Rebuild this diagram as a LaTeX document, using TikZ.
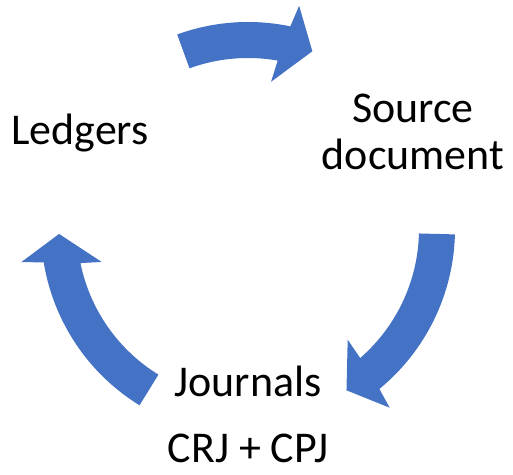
\documentclass[tikz,border=0pt]{standalone}
\usepackage{fontspec}
\setmainfont{Carlito}
\definecolor{cycleblue}{HTML}{4472C4}

\begin{document}
\begin{tikzpicture}[x=0.02cm,y=0.02cm]

      \useasboundingbox (0,0) rectangle (513,475);

      \begin{scope}[every node/.style={font=\fontsize{25}{27.2}\selectfont, inner sep=0pt}]
        \node[anchor=base] (1) at (80,330) {Ledgers};
        \node[anchor=base, align=center] (2) at (413,305) {Source\\document};
        \node[anchor=base] (3) at (248,78) {Journals};
        \node[anchor=base] (4) at (248,12) {CRJ + CPJ};
      \end{scope}

      \begin{scope}[shift={(248,246)}, every path/.style={fill=cycleblue}]
        \path (110:207) arc[start angle=110, end angle=78.2, radius=207]
          -- (77.1:229) -- (70.1:189) -- (81.1:149) -- (80:171)
          arc[start angle=80, end angle=110, radius=171] -- cycle;
        \path (-1.5:207) arc[start angle=-1.5, end angle=-50.6, radius=207]
          -- (-51.6:228) -- (-58.6:189) -- (-48:149) -- (-49:171)
          arc[start angle=-49, end angle=-1.5, radius=171] -- cycle;
        \path (238.4:207) arc[start angle=238.4, end angle=189.3, radius=207]
          -- (188.3:229) -- (181.5:189) -- (192.7:150) -- (191.5:171)
          arc[start angle=191.5, end angle=238.4, radius=171] -- cycle;
      \end{scope}

    \end{tikzpicture}
\end{document}
